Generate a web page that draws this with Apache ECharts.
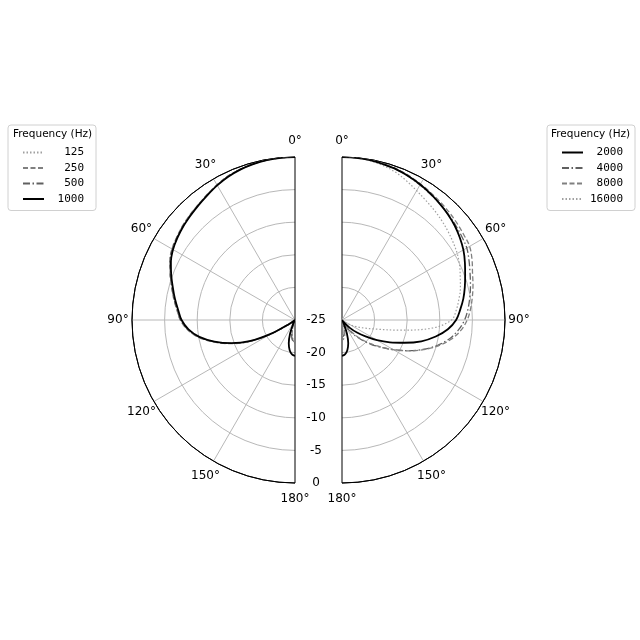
<!DOCTYPE html>
<html><head><meta charset="utf-8">
<script src="https://cdn.jsdelivr.net/npm/echarts@6/dist/echarts.min.js"></script>
<style>html,body{margin:0;padding:0;background:#fff}#c{width:640px;height:640px}</style>
</head><body><div id="c"></div>
<script>
// Angles (degrees from front) and polar levels (dB)
const angles = [0,5,10,15,20,25,30,35,40,45,50,55,60,65,70,75,80,85,90,95,100,105,110,115,120,125,130,135,140,145,150,155,160,165,170,175,180];
const radialTicks = [-25,-20,-15,-10,-5,0];
const angleTicks = [0,30,60,90,120,150,180];
const legendTitle = 'Frequency (Hz)';

// Low frequencies (left half)
const f125  = [0,-0.02,-0.1,-0.25,-0.45,-0.7,-1.1,-1.55,-1.95,-2.3,-2.6,-2.95,-3.3,-3.9,-4.7,-5.5,-6.2,-6.9,-7.5,-8.5,-10.0,-12.1,-14.5,-17.2,-20.7,-24.0,-25,-25,-25,-25,-25,-25,-24.6,-23.6,-22.6,-22.0,-21.8];
const f250  = [0,-0.02,-0.1,-0.2,-0.4,-0.65,-1.05,-1.5,-1.9,-2.2,-2.5,-2.85,-3.2,-3.8,-4.6,-5.4,-6.1,-6.8,-7.4,-8.4,-9.9,-12.0,-14.4,-17.1,-20.6,-23.9,-25,-25,-25,-25,-25,-25,-24.4,-23.3,-22.4,-21.8,-21.6];
const f500  = [0,-0.02,-0.1,-0.22,-0.42,-0.7,-1.1,-1.55,-1.95,-2.25,-2.55,-2.9,-3.25,-3.85,-4.65,-5.45,-6.15,-6.85,-7.45,-8.5,-10.0,-12.1,-14.5,-17.2,-20.7,-24.0,-25,-25,-25,-25,-25,-24.8,-24.0,-23.0,-22.2,-21.7,-21.5];
const f1000 = [0,-0.02,-0.1,-0.25,-0.45,-0.75,-1.15,-1.6,-2.0,-2.35,-2.65,-3.0,-3.4,-4.0,-4.8,-5.6,-6.3,-7.0,-7.6,-8.6,-10.1,-12.2,-14.6,-17.3,-20.8,-24.0,-25,-25,-25,-25,-25,-24.3,-22.8,-21.3,-20.3,-19.7,-19.5];

// High frequencies (right half)
const f2000  = [0,-0.02,-0.1,-0.3,-0.45,-0.7,-1.0,-1.35,-1.7,-2.05,-2.45,-2.95,-3.5,-4.2,-4.9,-5.5,-6.1,-6.8,-7.5,-8.7,-10.4,-12.4,-14.8,-16.9,-18.8,-20.6,-22.0,-23.3,-24.5,-25,-25,-24.3,-22.8,-21.3,-20.3,-19.7,-19.5];
const f4000  = [0,0,-0.08,-0.25,-0.45,-0.75,-1.1,-1.4,-1.7,-2.0,-2.3,-2.6,-2.9,-3.5,-4.1,-4.6,-5.1,-5.6,-6.2,-7.1,-8.3,-9.9,-11.8,-13.9,-15.9,-17.7,-19.2,-20.6,-21.9,-23.1,-24.2,-25,-24.6,-23.8,-23.0,-22.5,-22.3];
const f8000  = [0,0,-0.05,-0.2,-0.35,-0.6,-0.9,-1.2,-1.45,-1.7,-1.95,-2.2,-2.4,-3.0,-3.7,-4.2,-4.7,-5.2,-5.8,-6.7,-8.0,-9.7,-11.7,-13.8,-15.9,-17.8,-19.4,-20.9,-22.3,-23.6,-24.7,-25,-24.3,-23.4,-22.6,-22.1,-21.9];
const f16000 = [0,-0.05,-0.2,-0.5,-0.9,-1.5,-2.1,-2.6,-3.0,-3.4,-3.8,-4.2,-4.6,-5.1,-5.7,-6.2,-6.8,-7.4,-8.2,-11.0,-16.0,-19.6,-21.4,-22.6,-23.5,-24.2,-24.8,-25,-25,-25,-25,-25,-24.6,-23.9,-23.2,-22.8,-22.6];

const leftNames = ['125','250','500','1000'];
const leftData = [f125, f250, f500, f1000];
const rightNames = ['2000','4000','8000','16000'];
const rightData = [f2000, f4000, f8000, f16000];

const styles = {
  '125':  {color:'#a0a0a0', width:1.2, type:[1.5,2]},
  '250':  {color:'#808080', width:1.3, type:[5,2.5]},
  '500':  {color:'#606060', width:1.3, type:[7,2.5,1.5,2.5]},
  '1000': {color:'#000000', width:1.8, type:'solid'},
  '2000': {color:'#000000', width:1.8, type:'solid'},
  '4000': {color:'#606060', width:1.3, type:[7,2.5,1.5,2.5]},
  '8000': {color:'#808080', width:1.3, type:[5,2.5]},
  '16000':{color:'#a0a0a0', width:1.2, type:[1.5,2]}
};

const FONT = 'DejaVu Sans';
const grid = '#b8b8b8';
const R = 163;
const aMin = angleTicks[0], aMax = angleTicks[angleTicks.length-1], aStep = angleTicks[1]-angleTicks[0];
const rMin = radialTicks[0], rMax = radialTicks[radialTicks.length-1], rStep = radialTicks[1]-radialTicks[0];

function angleAxis(idx, start, end, fmt) {
  return {
    polarIndex: idx, type:'value', min:aMin, max:aMax, interval:aStep,
    startAngle:start, endAngle:end, clockwise:true,
    axisLine:{show:true, lineStyle:{color:'#000', width:1}},
    axisTick:{show:false},
    axisLabel:{show:true, formatter: v => '{a|' + fmt(v) + '}', margin:12,
      rich:{a:{width:4, height:8, align:'center', verticalAlign:'middle', color:'#000', fontFamily:FONT, fontSize:12}}},
    splitLine:{show:true, lineStyle:{color:['#000',grid,grid,grid,grid,grid,'#000'], width:1}}
  };
}
function radiusAxis(idx, showLabels) {
  return {
    polarIndex: idx, type:'value', min:rMin, max:rMax, interval:rStep,
    axisLine:{show:false}, axisTick:{show:false},
    axisLabel:{show:showLabels, color:'#000', fontFamily:FONT, fontSize:12, margin:21, align:'center', verticalAlign:'middle'},
    splitLine:{show:true, lineStyle:{color:[grid,grid,grid,grid,grid,'#000'], width:1}}
  };
}

const series = [];
leftNames.forEach((n,i)=>{
  series.push({name:n, type:'line', coordinateSystem:'polar', polarIndex:0, symbol:'none', showSymbol:false,
    smooth:0.35, lineStyle:styles[n], itemStyle:{color:styles[n].color}, z: n==='1000'?5:3, animation:false,
    data: angles.map((a,k)=>[leftData[i][k], aMax - a])});
});
rightNames.forEach((n,i)=>{
  series.push({name:n, type:'line', coordinateSystem:'polar', polarIndex:1, symbol:'none', showSymbol:false,
    smooth:0.35, lineStyle:styles[n], itemStyle:{color:styles[n].color}, z: n==='2000'?5:3, animation:false,
    data: angles.map((a,k)=>[rightData[i][k], a])});
});

function legend(names, left) {
  return {
    data:names, orient:'vertical', left:left, top:125, padding:[22,12,6,14],
    itemWidth:21, itemHeight:10, itemGap:4.5,
    borderColor:'#d0d0d0', borderWidth:1, borderRadius:3,
    itemStyle:{opacity:0},
    formatter: n => '{r|' + n + '}',
    textStyle:{color:'#000', fontFamily:'DejaVu Sans Mono', fontSize:11,
      rich:{r:{width:35, align:'right', fontFamily:'DejaVu Sans Mono', fontSize:11, color:'#000'}}}
  };
}

const chart = echarts.init(document.getElementById('c'), null, {renderer:'canvas'});
chart.setOption({
  animation:false,
  backgroundColor:'#fff',
  title:[
    {text:legendTitle, left:13, top:129, padding:0, textStyle:{fontFamily:FONT, fontSize:10.5, fontWeight:'normal', color:'#000'}},
    {text:legendTitle, left:551, top:129, padding:0, textStyle:{fontFamily:FONT, fontSize:10.5, fontWeight:'normal', color:'#000'}}
  ],
  legend:[legend(leftNames, 8), legend(rightNames, 547)],
  polar:[{center:[295,320], radius:R},{center:[342,320], radius:R}],
  angleAxis:[
    angleAxis(0, 270, 90, v => (aMax - v) + '°'),
    angleAxis(1, 90, -90, v => v + '°')
  ],
  radiusAxis:[radiusAxis(0, true), radiusAxis(1, false)],
  series: series
});
</script>
</body></html>
